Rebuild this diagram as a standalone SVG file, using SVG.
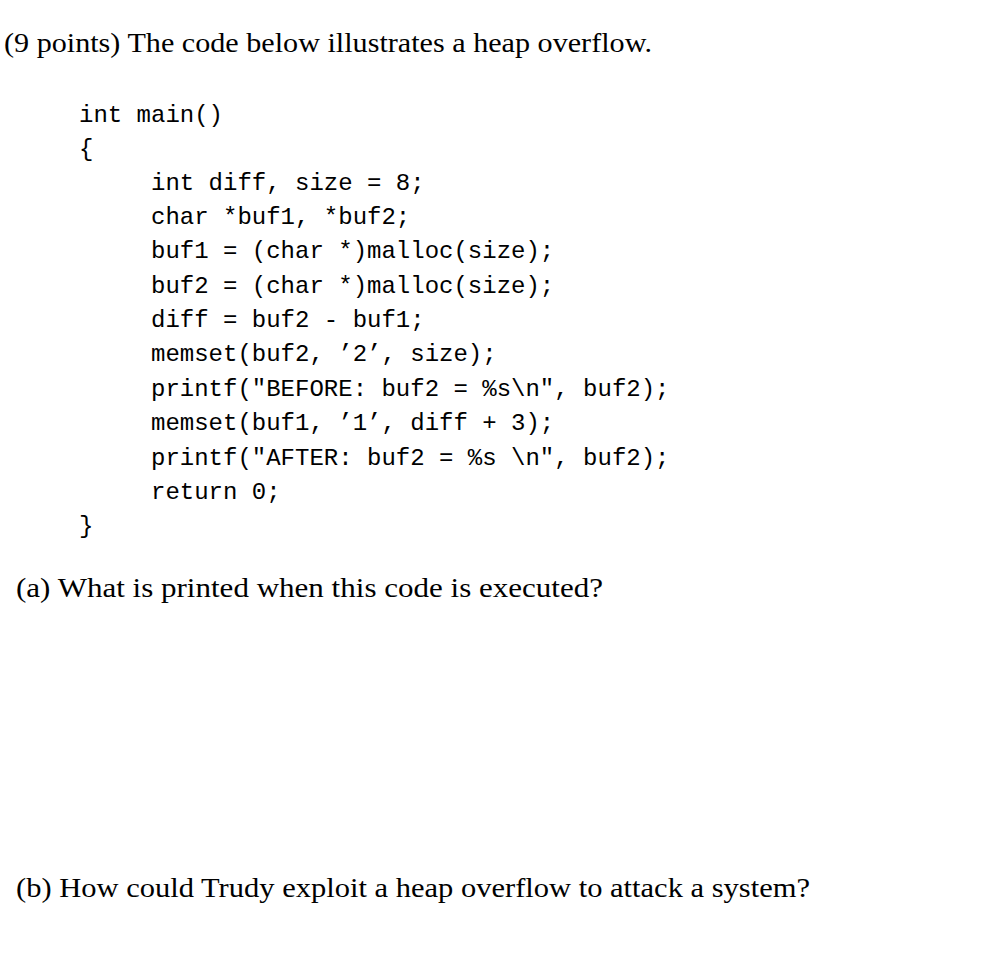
<svg xmlns="http://www.w3.org/2000/svg" width="984" height="968" viewBox="0 0 984 968">
<style>
.s{font-family:"Liberation Serif","Times New Roman",serif;font-size:27px;fill:#000}
.m{font-family:"Liberation Mono","Courier New",monospace;font-size:24px;fill:#000;white-space:pre}
</style>
<rect width="984" height="968" fill="#fff"/>
<text class="s" x="4" y="52" textLength="648" lengthAdjust="spacingAndGlyphs">(9 points) The code below illustrates a heap overflow.</text>
<g xml:space="preserve">
<text class="m" x="79" y="122">int main()</text>
<text class="m" x="79" y="156">{</text>
<text class="m" x="151" y="190">int diff, size = 8;</text>
<text class="m" x="151" y="224">char *buf1, *buf2;</text>
<text class="m" x="151" y="258">buf1 = (char *)malloc(size);</text>
<text class="m" x="151" y="293">buf2 = (char *)malloc(size);</text>
<text class="m" x="151" y="327">diff = buf2 - buf1;</text>
<text class="m" x="151" y="361">memset(buf2, ’2’, size);</text>
<text class="m" x="151" y="396">printf("BEFORE: buf2 = %s\n", buf2);</text>
<text class="m" x="151" y="430">memset(buf1, ’1’, diff + 3);</text>
<text class="m" x="151" y="465">printf("AFTER: buf2 = %s \n", buf2);</text>
<text class="m" x="151" y="499">return 0;</text>
<text class="m" x="79" y="533">}</text>
</g>
<text class="s" x="16" y="597" textLength="587" lengthAdjust="spacingAndGlyphs">(a) What is printed when this code is executed?</text>
<text class="s" x="16" y="897" textLength="794" lengthAdjust="spacingAndGlyphs">(b) How could Trudy exploit a heap overflow to attack a system?</text>
</svg>
